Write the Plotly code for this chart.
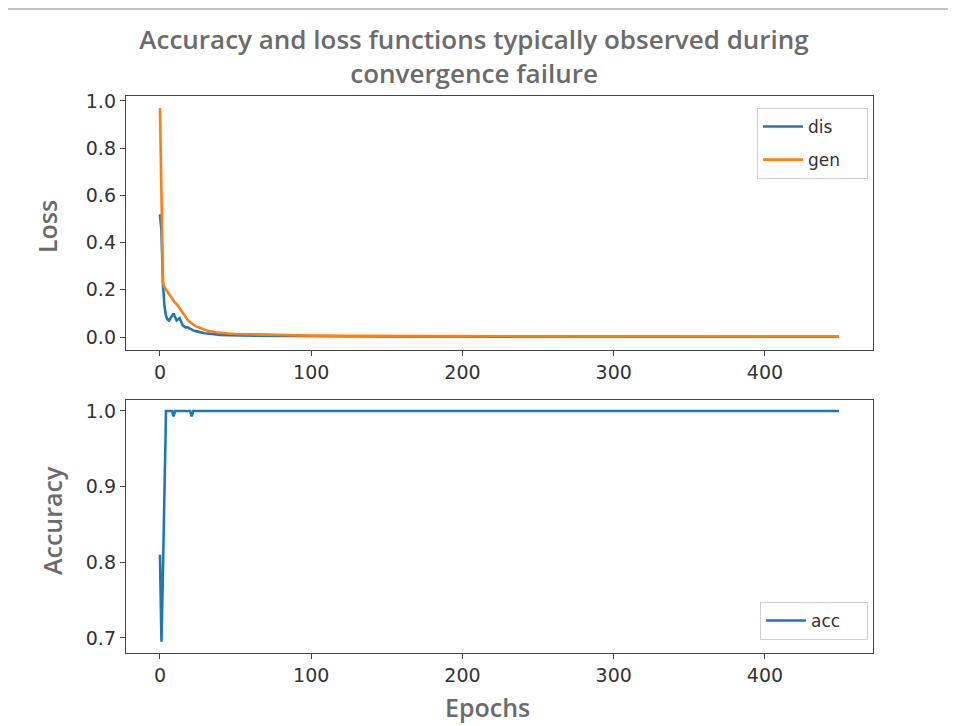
import plotly.graph_objects as go
from plotly.subplots import make_subplots

epochs = [0, 1, 2, 3, 4, 5, 6, 7, 8, 9, 10, 11, 12, 13, 14, 15, 16, 17, 18, 19, 20,
          21, 22, 23, 24, 25, 26, 27, 28, 29, 30, 31, 32, 33, 34, 35, 36, 37, 38, 39, 40,
          45, 50, 60, 70, 80, 90, 100, 120, 150, 200, 250, 300, 350, 400, 449]

dis_loss = [0.52, 0.45, 0.22, 0.13, 0.09, 0.075, 0.07, 0.08, 0.095, 0.10, 0.085, 0.07, 0.075,
            0.08, 0.065, 0.05, 0.045, 0.04, 0.042, 0.038, 0.033, 0.03, 0.028, 0.026, 0.024,
            0.022, 0.02, 0.019, 0.018, 0.017, 0.016, 0.015, 0.014, 0.013, 0.012, 0.012, 0.011,
            0.011, 0.010, 0.010, 0.009,
            0.008, 0.007, 0.006, 0.005, 0.004, 0.004, 0.003, 0.003, 0.002, 0.002, 0.001, 0.001,
            0.001, 0.001, 0.001]

gen_loss = [0.97, 0.50, 0.23, 0.21, 0.20, 0.19, 0.18, 0.17, 0.16, 0.15, 0.145, 0.14, 0.13,
            0.12, 0.11, 0.10, 0.09, 0.08, 0.075, 0.068, 0.062, 0.056, 0.052, 0.048, 0.045,
            0.042, 0.039, 0.036, 0.034, 0.032, 0.030, 0.028, 0.026, 0.025, 0.024, 0.022, 0.021,
            0.020, 0.019, 0.018, 0.017,
            0.015, 0.013, 0.011, 0.009, 0.008, 0.007, 0.006, 0.005, 0.004, 0.003, 0.003, 0.002,
            0.002, 0.002, 0.002]

accuracy = [0.81, 0.695, 0.79, 0.90, 1.0, 1.0, 1.0, 1.0, 1.0, 0.993, 1.0, 1.0, 1.0, 1.0, 1.0,
            1.0, 1.0, 1.0, 1.0, 1.0, 1.0, 0.993, 1.0, 1.0, 1.0, 1.0, 1.0, 1.0, 1.0, 1.0, 1.0,
            1.0, 1.0, 1.0, 1.0, 1.0, 1.0, 1.0, 1.0, 1.0, 1.0,
            1.0, 1.0, 1.0, 1.0, 1.0, 1.0, 1.0, 1.0, 1.0, 1.0, 1.0, 1.0, 1.0, 1.0, 1.0]

x_ticks = [0, 100, 200, 300, 400]
loss_ticks = [0.0, 0.2, 0.4, 0.6, 0.8, 1.0]
acc_ticks = [0.7, 0.8, 0.9, 1.0]

title_text = "Accuracy and loss functions typically observed during<br>convergence failure"

BLUE = "#1f77b4"
ORANGE = "#ff7f0e"
TICKFONT = dict(family="DejaVu Sans", size=19, color="#333333")
LABELFONT = dict(family="Open Sans", size=25, color="#6b6b6b", weight=600)
PAD = "\u00a0" * 4  # right padding inside legend box, like matplotlib

fig = make_subplots(rows=2, cols=1, vertical_spacing=0.0898)
fig.update_yaxes(domain=[0.5440, 1.0], row=1, col=1)
fig.update_yaxes(domain=[0.0, 0.4542], row=2, col=1)

fig.add_trace(go.Scatter(x=epochs, y=dis_loss, mode="lines", name="dis" + PAD, legendgroup="a",
                         line=dict(color=BLUE, width=2.6), legend="legend"), row=1, col=1)
fig.add_trace(go.Scatter(x=epochs, y=gen_loss, mode="lines", name="gen" + PAD, legendgroup="b",
                         line=dict(color=ORANGE, width=2.6), legend="legend"), row=1, col=1)
fig.add_trace(go.Scatter(x=epochs, y=accuracy, mode="lines", name="acc" + PAD,
                         line=dict(color=BLUE, width=2.6), legend="legend2"), row=2, col=1)

axis_common = dict(showgrid=False, zeroline=False, showline=True, mirror=True,
                   linecolor="#444444", linewidth=1.4, ticks="outside", ticklen=5,
                   tickcolor="#444444", tickfont=TICKFONT)
fig.update_xaxes(range=[-22.45, 471.45], tickvals=x_ticks, **axis_common)
fig.update_yaxes(range=[-0.055, 1.021], tickvals=loss_ticks,
                 tickformat=".1f", row=1, col=1, **axis_common)
fig.update_yaxes(range=[0.680, 1.0145], tickvals=acc_ticks,
                 tickformat=".1f", row=2, col=1, **axis_common)

legend_common = dict(bgcolor="rgba(255,255,255,0.8)", bordercolor="#d0d0d0", borderwidth=1,
                     font=dict(family="DejaVu Sans", size=17, color="#333333"),
                     xanchor="right", x=0.9933, itemwidth=40, tracegroupgap=8)
fig.update_layout(
    width=956, height=726,
    margin=dict(l=118, r=91, t=88, b=81),
    paper_bgcolor="white", plot_bgcolor="white",
    title=dict(text=title_text, x=0.4875, xanchor="center", xref="container",
               y=1 - 41 / 726, yanchor="middle", yref="container",
               font=dict(family="Open Sans", size=26, color="#6b6b6b", weight=600)),
    legend=dict(yanchor="top", y=0.9785, **legend_common),
    legend2=dict(yanchor="bottom", y=0.0233, **legend_common),
    annotations=[
        dict(text="Loss", x=-0.1058, y=0.7666, xref="paper", yref="paper", textangle=-90,
             showarrow=False, font=LABELFONT, xanchor="center", yanchor="middle"),
        dict(text="Accuracy", x=-0.099, y=0.237, xref="paper", yref="paper", textangle=-90,
             showarrow=False, font=LABELFONT, xanchor="center", yanchor="middle"),
        dict(text="Epochs", x=0.4846, y=-0.097, xref="paper", yref="paper",
             showarrow=False, font=LABELFONT, xanchor="center", yanchor="middle"),
    ],
    shapes=[dict(type="line", xref="paper", yref="paper", x0=-0.1606, x1=1.12,
                 y0=1.1562, y1=1.1562, line=dict(color="#c4c4c4", width=2))],
)

fig.write_html("out.html")
